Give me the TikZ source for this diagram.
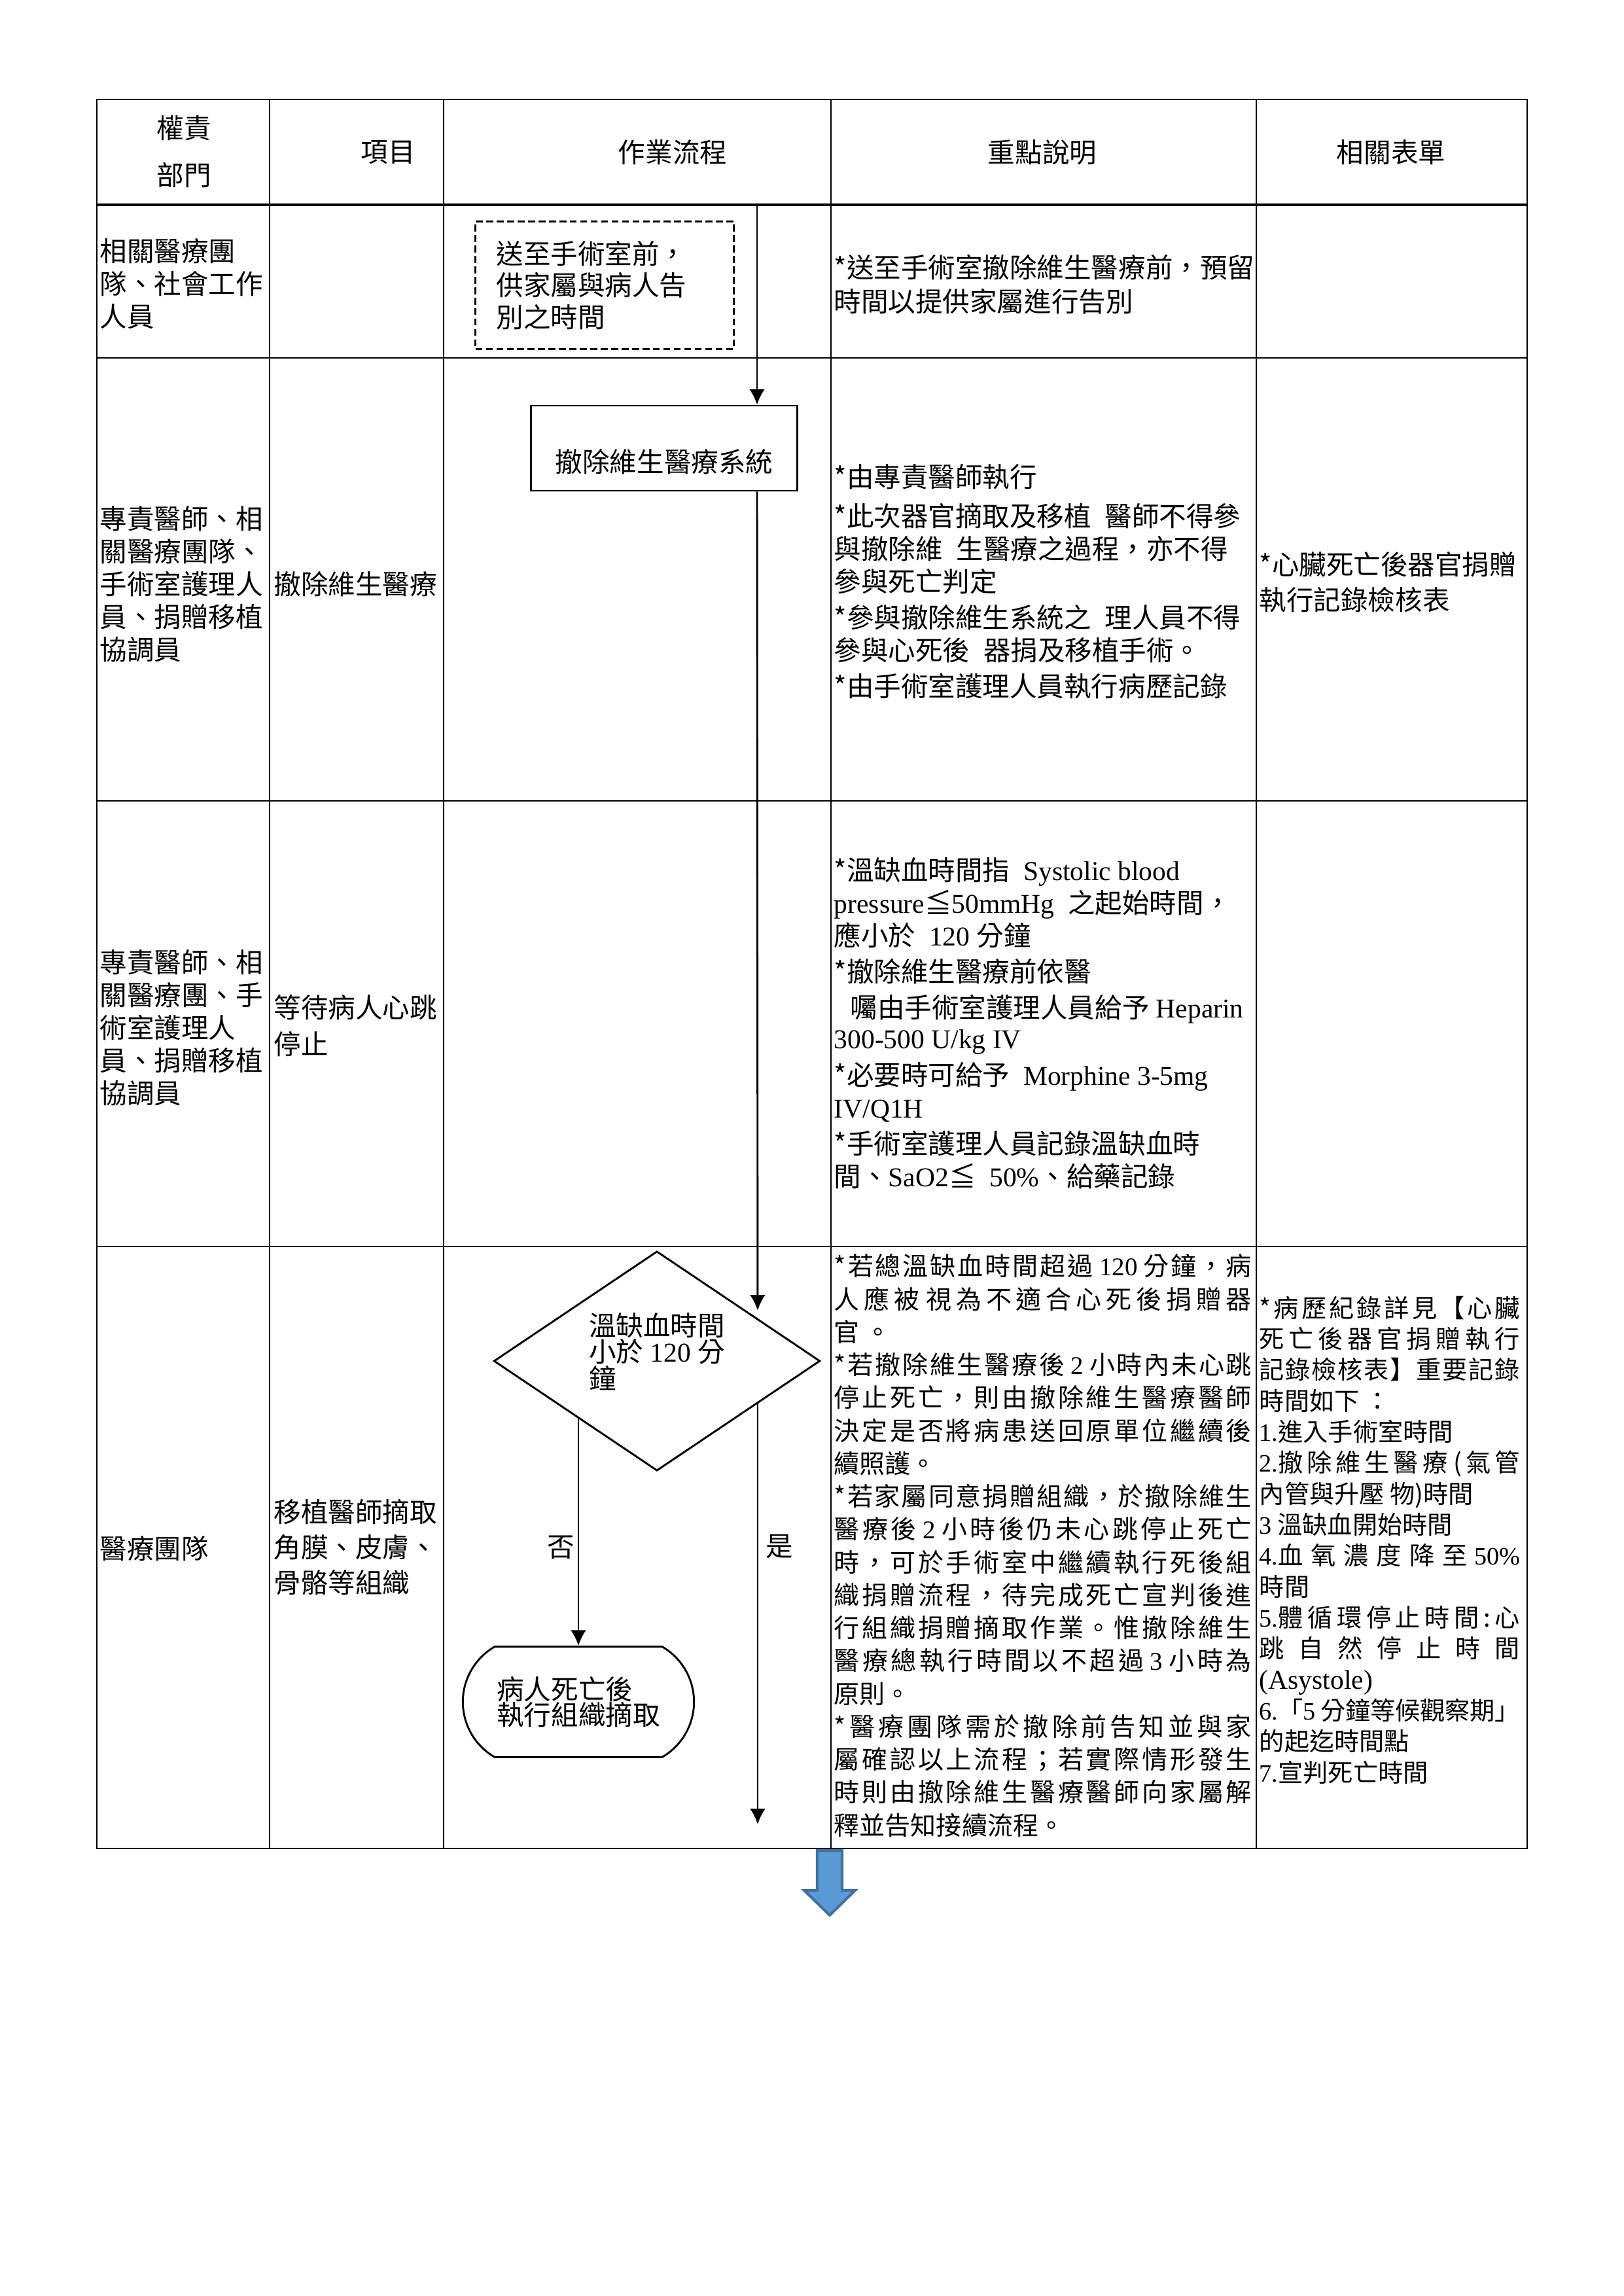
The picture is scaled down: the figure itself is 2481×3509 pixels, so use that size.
\documentclass[tikz,border=0pt]{standalone}
\usepackage{fontspec}
\setmainfont{Noto Sans CJK TC}
\newfontfamily\lat{Liberation Serif}
\usetikzlibrary{arrows.meta,shapes.geometric,shapes.misc}
\definecolor{arrowblue}{HTML}{5B9BD5}
\definecolor{arrowedge}{HTML}{41719C}
\XeTeXinterchartokenstate=1
\newXeTeXintercharclass\cjkchars
\newcount\cjkcode
\newcommand\cjkrange[2]{\cjkcode=#1\relax
  \loop\XeTeXcharclass\cjkcode=\cjkchars\relax
    \advance\cjkcode by 1\relax
  \ifnum\cjkcode<#2\relax\repeat}
\cjkrange{"3000}{"3040}
\cjkrange{"4E00}{"A000}
\cjkrange{"FF00}{"FFF0}
\XeTeXinterchartoks\cjkchars\cjkchars={\hskip0pt plus6pt minus0.4pt\relax}
\XeTeXinterchartoks 0 \cjkchars={\hskip0pt plus6pt minus0.4pt\relax}
\XeTeXinterchartoks\cjkchars 0 ={\hskip0pt plus6pt minus0.4pt\relax}
\newcommand\jthree[1]{\makebox[54mm][s]{#1}}
\newcommand\jfour[1]{\makebox[33.7mm][s]{#1}}
\begin{document}
\begin{tikzpicture}[x=0.08464mm,y=-0.08464mm,>={Latex[length=2mm,width=2mm]},
  tabline/.style={line width=0.6pt},
  textcell/.style={anchor=north west,inner sep=0pt,align=left,font=\fontsize{10pt}{12pt}\selectfont},
  headcell/.style={inner sep=0pt,align=center,font=\fontsize{10pt}{12pt}\selectfont},
  dashbox/.style={draw,line width=0.7pt,dash pattern=on 0.9mm off 0.45mm,minimum width=33.4mm,minimum height=16.5mm,text width=28mm,inner sep=0pt,align=left,font=\fontsize{10pt}{11.6pt}\selectfont},
  flowbox/.style={draw,line width=0.7pt,minimum width=34.5mm,minimum height=11mm,inner sep=0pt,text height=6.5mm,text depth=0.3mm,font=\fontsize{10pt}{12pt}\selectfont},
  decision/.style={diamond,draw,line width=0.7pt,aspect=1.5,minimum width=42.2mm,minimum height=28.4mm,inner sep=0pt,align=left,font=\fontsize{10pt}{9.8pt}\selectfont},
  terminal/.style={rounded rectangle,rounded rectangle arc length=120,draw,line width=0.7pt,minimum width=29.9mm,minimum height=14.3mm,inner sep=0pt,align=left,font=\fontsize{10pt}{9.4pt}\selectfont},
  flowline/.style={->,line width=0.7pt},
  tag/.style={inner sep=1pt,font=\fontsize{10pt}{12pt}\selectfont}]
\useasboundingbox (0,0) rectangle (2481,3509);

\draw[tabline] (148,152) rectangle (2334,2825);
\draw[tabline,line width=0.9pt] (148,313)--(2334,313);
\foreach \y in {547,1224,1905} \draw[tabline] (148,\y)--(2334,\y);
\foreach \x in {412,678,1270,1920} \draw[tabline] (\x,152)--(\x,2825);

\node[headcell] (hdept) at (281,232) {權責\\[5.3pt]部門};
\node[headcell] (hitem) at (593,233) {項目};
\node[headcell] (hflow) at (1028,233) {作業流程};
\node[headcell] (hnote) at (1593,233) {重點說明};
\node[headcell] (hform) at (2126,233) {相關表單};

\node[textcell] (dept1) at (152,364) {相關醫療團\\隊、社會工作\\人員};
\node[dashbox] (prep) at (924,436) {送至手術室前，\\供家屬與病人告\\別之時間};
\node[textcell] (note1) at (1274,388) {*送至手術室撤除維生醫療前，預留\\[0.7pt]時間以提供家屬進行告別};

\node[textcell] (dept2) at (152,773) {專責醫師、相\\關醫療團隊、\\手術室護理人\\員、捐贈移植\\協調員};
\node[textcell] (item2) at (418,872) {撤除維生醫療};
\node[flowbox] (stop) at (1015,685) {撤除維生醫療系統};
\node[textcell] (note2) at (1274,709) {*由專責醫師執行\\[2.5pt]{}*此次器官摘取及移植\enspace 醫師不得參\\與撤除維\enspace 生醫療之過程，亦不得\\參與死亡判定\\[1.2pt]{}*參與撤除維生系統之\enspace 理人員不得\\參與心死後\enspace 器捐及移植手術。\\[1.2pt]{}*由手術室護理人員執行病歷記錄};
\node[textcell] (form2) at (1924,843) {*心臟死亡後器官捐贈\\[1pt]執行記錄檢核表};

\node[textcell] (dept3) at (152,1451) {專責醫師、相\\關醫療團、手\\術室護理人\\員、捐贈移植\\協調員};
\node[textcell] (item3) at (418,1519) {等待病人心跳\\[1.7pt]停止};
\node[textcell] (note3) at (1274,1310) {*溫缺血時間指{\lat\ \ Systolic blood}\\
{\lat pressure}≦{\lat 50mmHg\ \ }之起始時間，\\
應小於{\lat\ \ 120 }分鐘\\[1.2pt]
{}*撤除維生醫療前依醫\\[1.2pt]
\hspace*{0.6em}囑由手術室護理人員給予{\lat\ Heparin}\\[-0.7pt]
{\lat 300-500 U/kg IV}\\[1.7pt]
{}*必要時可給予{\lat\ \ Morphine 3-5mg}\\
{\lat IV/Q1H}\\[1.2pt]
{}*手術室護理人員記錄溫缺血時\\
間、{\lat SaO2}≦{\lat\ \ 50\%}、給藥記錄};

\node[textcell] (dept4) at (152,2347) {醫療團隊};
\node[textcell,font=\fontsize{10pt}{13pt}\selectfont] (item4) at (418,2290) {移植醫師摘取\\角膜、皮膚、\\骨骼等組織};
\node[decision] (check) at (1004,2080) {溫缺血時間\\小於{\lat\ 120\ }分\\鐘\\[-2.2pt]\mbox{}};
\node[terminal] (tissue) at (884,2601) {病人死亡後\\執行組織摘取};
\node[textcell,font=\fontsize{9.4pt}{12.1pt}\selectfont] (note4) at (1274,1916) {\jthree{*若總溫缺血時間超過 {\lat 120} 分鐘，病}\\
\jthree{人應被 視為不適合心死後捐贈器}\\
官 。\\
\jthree{*若撤除維生醫療後 {\lat 2} 小時內未心跳}\\
\jthree{停止死亡，則由撤除維生醫療醫師}\\
\jthree{決定是否將病患送回原單位繼續後}\\
續照護。\\
\jthree{*若家屬同意捐贈組織，於撤除維生}\\
\jthree{醫療後 {\lat 2} 小時後仍未心跳停止死亡}\\
\jthree{時，可於手術室中繼續執行死後組}\\
\jthree{織捐贈流程，待完成死亡宣判後進}\\
\jthree{行組織捐贈摘取作業。惟撤除維生}\\
\jthree{醫療總執行時間以不超過 {\lat 3} 小時為}\\
原則。\\
\jthree{*醫療團隊需於撤除前告知並與家}\\
\jthree{屬確認以上流程；若實際情形發生}\\
\jthree{時則由撤除維生醫療醫師向家屬解}\\
釋並告知接續流程。};
\node[textcell,font=\fontsize{9.2pt}{11.4pt}\selectfont] (form4) at (1924,1980) {\jfour{*病歷紀錄詳見【心臟}\\
\jfour{死亡後器官捐贈執行}\\
\jfour{記錄檢核表】重要記錄}\\
時間如下 ：\\
{\lat 1.}進入手術室時間\\
\jfour{{\lat 2.}撤除維生醫療 (氣管}\\
內管與升壓 物)時間\\
{\lat 3} 溫缺血開始時間\\
\jfour{{\lat 4.}血氧濃度降至 {\lat 50\%}}\\
時間\\
\jfour{{\lat 5.}體循環停止時間:心}\\
\jfour{跳自然停止時間}\\
{\lat\fontsize{10pt}{11.4pt}\selectfont (Asystole)}\\
\jfour{{\lat 6.}「{\lat 5} 分鐘等候觀察期」}\\
的起迄時間點\\
{\lat 7.}宣判死亡時間};

\coordinate (from) at (1157,313);
\coordinate (yesend) at (1157,2788);
\draw[flowline] (from)--(from |- stop.north);
\draw[flowline,shorten >=1mm] (stop.south -| from)--(check.23);
\draw[flowline] (check.south west -| tissue.north)--node[tag,pos=0.57,left] (no) {否}(tissue.north);
\draw[flowline] (check.-23)--node[tag,pos=0.34,right=0.6mm] (yes) {是}(check.-23 |- yesend);

\filldraw[fill=arrowblue,draw=arrowedge,line width=1pt] (1249,2828)--(1287,2828)--(1287,2889)--(1307,2889)--(1268,2927)--(1229,2889)--(1249,2889)--cycle;
\end{tikzpicture}
\end{document}
